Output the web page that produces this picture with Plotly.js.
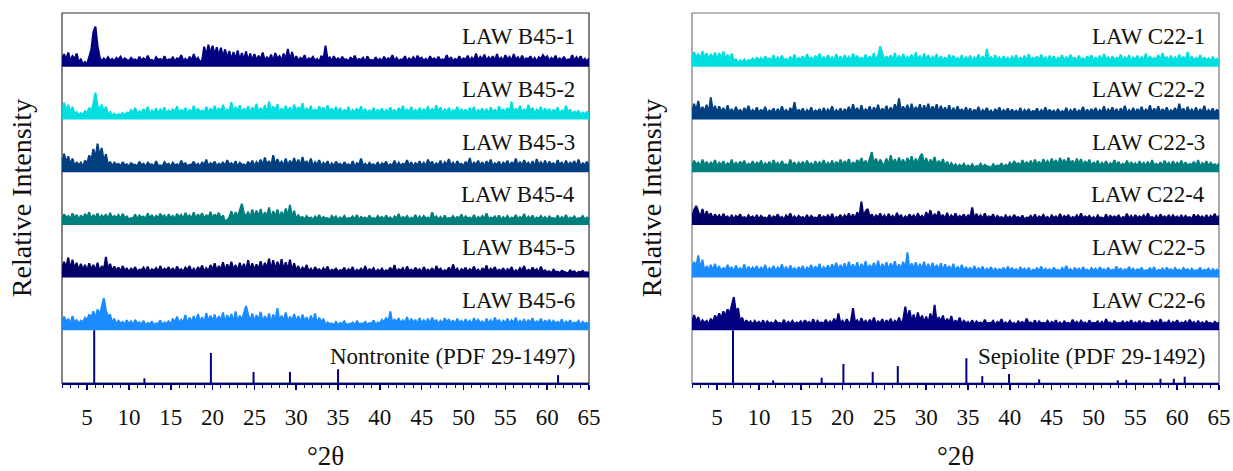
<!DOCTYPE html>
<html>
<head>
<meta charset="utf-8">
<script src="https://cdn.plot.ly/plotly-3.0.1.min.js"></script>
<style>html,body{margin:0;padding:0;background:#fff}#chart{width:1233px;height:471px}</style>
</head>
<body>
<div id="chart"></div>
<script>
// ---- scan range (degrees 2-theta) ----
const scanStart = 2;
const scanEnd = 65;
const tickVals = [5, 10, 15, 20, 25, 30, 35, 40, 45, 50, 55, 60, 65];
const tickText = ["5", "10", "15", "20", "25", "30", "35", "40", "45", "50", "55", "60", "65"];

// ---- panel A : LAW B45 samples (intensity, 100 = one stacking step, 0.25 deg steps) ----
const namesB = ["LAW B45-1", "LAW B45-2", "LAW B45-3", "LAW B45-4", "LAW B45-5", "LAW B45-6"];
const B45_1 = [12,24,14,27,11,20,15,25,9,14,5,9,
5,18,32,66,76,40,18,10,16,11,18,12,15,10,17,13,19,11,16,13,
11,17,13,14,10,19,12,16,11,21,12,13,9,18,13,15,11,20,11,14,
13,18,10,16,14,22,11,15,10,19,12,24,12,17,9,12,38,20,42,24,
40,22,37,20,36,18,33,16,30,13,28,14,31,12,26,13,29,11,25,12,
24,12,21,14,27,11,18,13,23,10,26,15,20,12,25,14,34,11,28,12,
20,11,17,13,22,10,16,14,19,11,15,9,21,13,40,14,18,11,20,12,
16,11,19,13,14,10,18,12,21,11,15,13,17,9,20,13,13,11,18,11,
15,10,19,12,16,14,22,11,17,11,14,13,20,10,16,12,18,11,21,14,
17,11,15,10,20,13,16,11,19,12,14,13,22,11,18,10,15,12,20,11,
16,13,21,11,17,12,25,11,19,14,23,11,18,13,20,11,24,12,17,11,
22,14,19,11,24,13,18,11,21,12,16,14,20,11,17,10,18,15,22,16,
20,11,17,13,21,11,16,12,19,11,14,13,22,11,18,12,20,11,15,10,16];
const B45_2 = [13,32,16,28,13,24,11,14,8,12,9,16,
12,22,16,30,51,26,18,28,14,24,10,14,8,11,7,10,8,12,8,13,
11,18,13,22,10,16,12,20,12,24,10,17,13,21,11,19,14,23,10,18,
12,20,13,25,11,19,13,22,10,18,14,26,12,21,14,17,11,24,13,20,
14,26,12,22,15,28,11,20,14,33,13,24,15,27,11,21,14,25,12,23,
15,30,13,22,14,27,11,34,14,25,15,29,12,21,14,26,13,23,11,28,
14,24,15,31,12,22,14,26,11,20,13,25,15,23,11,27,14,21,12,24,
14,22,11,19,13,24,11,18,13,21,14,25,12,20,10,17,13,22,11,19,
13,21,11,18,14,23,12,19,10,22,14,26,11,20,13,24,11,18,14,22,
12,20,14,25,11,21,14,27,13,23,11,19,14,22,12,18,14,24,11,20,
13,19,11,22,14,24,11,18,14,21,12,20,10,23,13,19,11,25,14,20,
12,22,14,34,11,21,14,26,11,20,13,28,15,22,12,19,14,24,11,21,
13,20,11,18,14,23,11,17,14,26,12,19,10,15,12,16,9,13,10,14,12];
const B45_3 = [15,35,18,30,14,26,11,19,13,18,10,22,
16,32,22,44,26,54,30,46,20,34,13,20,11,18,14,16,11,19,13,15,
11,17,14,14,11,20,13,16,10,18,14,15,11,21,12,13,11,19,14,16,
10,18,13,15,11,22,14,17,11,14,14,20,12,16,10,19,13,24,11,17,
14,20,11,16,13,19,11,23,14,17,12,21,10,18,14,15,11,20,13,22,
11,19,14,24,12,28,14,21,11,32,13,25,15,20,12,26,11,22,14,27,
13,24,11,29,14,21,12,26,11,19,14,23,11,18,13,21,10,17,12,20,
14,16,11,19,13,15,11,21,10,17,14,26,12,16,11,18,13,15,11,19,
10,17,14,20,11,15,13,22,11,18,12,16,14,23,11,19,10,17,13,21,
12,18,11,24,14,20,11,17,13,22,10,19,14,25,12,18,11,21,14,16,
11,20,13,27,11,18,14,22,12,19,10,21,13,24,11,17,14,20,11,18,
14,22,11,19,13,26,11,20,12,23,14,18,11,21,10,25,13,19,12,22,
11,20,14,17,11,23,13,19,10,22,12,18,14,21,11,24,11,17,13,20,11];
const B45_4 = [11,20,14,17,11,22,13,19,10,18,12,21,
14,24,11,19,13,22,11,18,14,20,10,23,12,17,14,19,11,21,13,16,
10,13,12,20,10,18,14,16,11,22,12,19,11,17,13,21,14,18,11,20,
13,17,11,21,14,19,11,23,14,18,12,24,11,20,14,22,11,19,13,25,
12,20,14,23,11,18,6,9,14,26,13,24,15,28,40,22,15,25,12,29,
14,27,15,30,13,24,15,33,12,26,15,29,12,25,14,31,16,38,13,27,
11,18,13,15,10,17,12,14,9,16,11,19,10,15,12,13,9,17,12,16,
9,14,11,17,10,13,12,16,10,19,9,15,12,14,10,18,11,13,10,17,
12,15,10,18,11,14,9,16,12,21,10,15,12,17,10,14,11,19,9,16,
10,17,12,14,10,24,12,16,10,15,9,18,11,13,12,17,10,15,12,20,
10,16,12,14,10,19,9,15,12,17,11,22,10,14,12,16,10,18,9,15,
11,17,10,14,12,19,10,15,12,21,9,16,11,18,10,14,12,17,10,15,
9,16,12,13,10,18,10,15,11,19,9,14,12,16,10,13,12,17,10,14,11];
const B45_5 = [16,30,18,38,15,34,17,28,13,26,14,24,
12,27,15,24,13,28,11,22,14,39,15,26,12,21,13,19,11,22,12,18,
10,17,13,20,11,15,14,19,11,21,10,16,13,18,11,22,12,17,14,20,
11,18,10,21,13,16,11,19,14,22,11,17,10,20,13,23,11,18,12,24,
14,27,12,22,15,29,13,25,16,30,14,24,12,28,15,26,13,33,14,27,
13,25,15,31,14,28,17,36,15,33,14,30,16,35,14,29,15,34,12,27,
13,22,11,19,14,24,11,17,10,20,13,16,11,18,12,21,10,15,13,17,
11,14,13,19,10,16,12,20,9,15,12,17,11,22,10,16,13,18,9,15,
12,17,10,14,12,19,11,24,9,16,13,18,10,21,12,15,11,19,12,16,
10,20,12,15,11,18,9,22,13,17,10,14,12,19,11,25,12,17,9,16,
13,19,10,16,12,21,11,15,9,18,12,23,10,17,13,20,11,15,12,18,
10,16,12,20,9,14,11,18,13,22,10,15,11,19,12,16,9,21,11,14,
10,12,8,15,11,11,9,13,11,10,8,14,10,12,7,11,10,13,9,10,9];
const B45_6 = [13,26,15,22,11,27,14,20,12,18,15,24,
20,30,24,36,22,40,28,48,61,38,26,30,14,22,11,18,13,16,11,19,
12,17,10,20,13,15,11,18,9,14,12,16,10,13,12,19,10,15,13,17,
11,22,14,26,13,20,15,29,12,24,15,27,14,31,16,25,13,33,16,28,
17,30,15,27,17,34,14,29,18,31,15,36,16,28,19,33,46,30,17,32,
15,29,18,35,16,27,17,32,14,30,18,42,15,28,17,34,15,26,18,31,
16,27,14,30,17,25,13,28,15,32,12,24,14,22,10,15,12,13,9,16,
10,14,12,17,10,12,12,15,9,18,11,13,12,16,10,14,12,19,10,15,
13,20,15,24,14,36,13,21,15,23,13,19,14,25,12,22,14,20,11,23,
13,19,14,22,12,24,14,20,11,18,13,23,15,21,13,19,11,22,14,18,
12,21,13,18,11,23,14,20,13,17,11,22,13,19,12,24,14,20,11,18,
13,22,12,19,14,24,11,18,13,21,11,20,13,23,12,17,14,22,11,19,
13,20,11,18,13,16,12,21,10,17,13,19,11,15,13,18,10,16,12,14,12];

// ---- panel B : LAW C22 samples ----
const namesC = ["LAW C22-1", "LAW C22-2", "LAW C22-3", "LAW C22-4", "LAW C22-5", "LAW C22-6"];
const C22_1 = [15,28,17,25,14,30,16,26,14,24,16,27,
14,26,16,29,13,23,15,25,9,15,7,12,9,14,8,13,11,16,10,18,
12,17,10,20,13,16,11,22,10,18,13,21,12,15,10,19,12,23,11,17,
13,20,11,24,12,18,10,21,14,25,12,19,10,22,13,18,11,24,12,20,
10,22,13,19,11,25,14,21,12,18,10,23,12,20,14,26,11,21,39,24,
12,20,14,22,12,26,10,21,13,24,11,19,14,23,12,27,12,21,11,25,
13,22,11,19,14,24,10,20,12,18,10,23,12,21,13,17,11,22,10,19,
12,21,10,18,13,23,11,20,10,34,12,19,11,22,13,18,10,20,12,17,
11,19,13,22,10,18,12,21,10,24,12,17,14,20,11,23,13,18,10,21,
12,20,11,17,14,22,10,19,13,23,12,18,10,21,12,16,11,20,13,22,
10,18,12,21,11,24,13,19,10,20,12,17,14,23,11,19,12,22,10,18,
13,21,11,18,12,25,10,20,12,17,14,22,11,26,13,19,10,21,12,18,
11,23,13,19,10,28,12,20,11,17,13,22,10,18,12,16,10,19,12,15,12];
const C22_2 = [14,30,16,35,13,24,15,28,11,42,14,26,
12,25,14,22,11,27,13,20,11,24,13,19,10,22,14,26,12,18,13,23,
11,19,13,24,11,17,14,21,10,20,12,25,13,18,11,22,13,33,11,19,
13,21,11,18,13,23,11,17,14,20,10,22,12,19,13,25,11,18,13,21,
11,20,14,24,12,29,14,22,11,27,13,19,15,25,11,23,14,28,12,21,
14,26,12,23,14,29,16,40,13,25,15,28,12,30,14,24,16,29,13,27,
15,30,14,25,16,29,12,26,14,23,13,27,11,22,13,25,14,20,12,23,
13,21,11,19,13,24,11,18,14,22,12,17,10,20,13,23,11,18,13,21,
11,19,13,17,11,22,10,18,13,20,12,16,14,21,11,18,13,23,11,19,
13,17,11,20,12,16,13,22,10,18,13,21,11,17,14,24,11,19,12,20,
13,22,11,18,13,25,11,19,14,23,12,20,10,21,13,26,11,18,13,22,
11,20,13,24,12,19,14,27,11,21,13,25,11,20,13,23,12,18,14,22,
11,30,13,21,11,24,13,19,12,23,10,20,13,26,11,18,13,21,11,19,12];
const C22_3 = [12,22,14,18,11,24,13,20,11,19,13,23,
11,18,13,21,11,17,13,24,10,19,12,20,14,22,11,16,13,21,11,19,
13,22,11,17,12,20,10,23,13,18,11,21,13,15,11,24,12,19,10,18,
13,20,11,22,13,17,11,21,12,19,14,23,11,18,13,22,11,20,13,24,
12,21,14,25,11,19,13,23,15,27,14,22,12,24,38,15,26,13,24,16,
14,26,12,32,15,25,13,28,15,24,12,27,16,30,14,26,15,29,35,15,
27,13,24,15,29,12,22,14,25,11,20,10,17,11,15,9,14,10,16,9,
13,9,15,8,12,10,16,9,14,11,11,8,15,10,13,11,17,9,14,11,
18,12,21,14,17,11,23,13,19,14,22,12,24,14,20,12,25,15,21,13,
26,15,23,13,27,16,24,14,28,15,22,13,26,15,25,12,21,14,24,11,
19,13,22,11,18,13,21,11,17,14,23,12,20,11,16,13,22,11,19,13,
17,11,21,13,18,11,20,10,23,13,16,12,19,11,22,13,18,11,21,12,
18,13,22,11,19,12,16,13,20,11,23,10,17,13,21,11,18,13,15,11,17];
const C22_4 = [15,28,36,24,14,30,13,26,15,22,11,20,
13,18,11,21,13,16,11,19,10,17,13,20,12,15,11,18,13,16,11,19,
10,17,13,14,11,19,11,16,13,20,12,15,10,18,13,22,11,16,11,17,
13,15,11,19,10,17,13,14,12,20,11,16,13,18,11,21,10,15,13,19,
11,18,13,22,12,20,11,24,14,44,15,26,30,14,20,11,19,13,22,12,
18,11,21,13,17,11,23,13,19,10,16,12,20,13,18,11,22,13,17,11,
24,14,28,12,21,14,26,13,19,11,23,11,18,13,22,12,17,14,20,11,
19,13,33,11,21,13,18,11,22,12,16,13,20,10,17,13,15,11,18,12,
16,11,19,13,15,11,18,10,14,13,17,11,20,11,16,13,19,12,15,10,
18,13,16,11,21,12,17,13,19,11,15,13,18,11,22,12,16,13,17,11,
15,10,18,13,14,11,20,11,17,13,16,12,19,10,15,13,21,11,17,11,
19,12,16,13,18,11,22,13,15,11,17,10,20,13,16,12,19,11,18,13,
16,11,19,11,17,13,15,10,20,12,18,13,16,11,19,11,17,13,21,11,18];
const C22_5 = [17,30,20,42,16,34,11,22,14,24,13,26,
13,22,11,19,13,24,14,20,11,23,13,18,12,25,11,21,13,19,14,22,
11,20,13,24,11,18,13,22,12,19,14,25,11,21,10,23,13,18,12,20,
13,22,11,19,14,24,12,21,14,26,11,20,15,23,13,25,16,28,14,24,
15,27,13,30,16,25,14,29,12,26,16,31,14,24,17,28,14,32,13,26,
16,29,14,27,17,31,14,25,16,30,15,48,13,27,16,29,14,26,16,30,
14,26,13,28,15,24,14,27,12,25,15,22,13,26,11,21,13,24,12,20,
13,19,11,22,12,18,13,21,11,17,13,20,10,18,12,16,13,19,11,21,
12,18,13,16,11,20,13,17,11,19,10,15,13,18,12,21,11,17,13,16,
11,19,13,15,11,18,13,22,12,16,10,19,13,17,11,20,13,15,11,18,
13,17,11,20,13,16,11,19,12,15,13,21,11,18,10,16,13,20,12,17,
11,16,13,19,11,14,13,18,12,20,10,15,13,17,11,19,13,16,11,18,
13,15,11,18,13,16,11,17,12,14,13,19,11,15,13,17,10,16,12,15,11];
const C22_6 = [14,29,16,25,12,19,14,18,11,22,15,28,
20,32,22,36,26,40,30,46,63,34,42,16,24,11,19,13,17,11,18,12,
16,11,19,10,17,13,15,11,18,13,14,11,20,10,16,12,18,11,15,13,
17,11,19,13,16,11,21,10,18,13,15,12,20,11,17,13,22,11,32,13,
18,11,21,13,17,42,14,19,11,23,13,18,11,20,13,24,11,17,13,21,
11,19,13,22,11,18,13,24,12,20,45,20,38,17,30,15,34,18,28,14,
26,13,32,15,48,14,25,16,28,12,22,14,27,11,19,13,24,11,18,13,
16,11,19,10,17,13,15,11,20,12,14,13,18,10,16,13,21,11,15,11,
18,12,14,10,17,13,16,11,22,13,15,11,19,10,17,13,14,12,18,11,
16,13,19,11,15,10,17,13,14,11,20,12,16,11,18,13,15,10,19,12,
14,13,17,11,16,11,21,13,15,10,18,12,14,13,17,11,16,13,19,11,
15,12,18,10,16,13,14,11,19,13,17,11,21,12,15,13,18,10,16,13,
19,11,15,13,17,11,20,13,16,10,18,12,15,11,17,13,14,11,16,12,15];

// ---- reference patterns (stick positions / relative heights) ----
const nontroniteLabel = "Nontronite (PDF 29-1497)";
const nontroniteTheta = [5.85, 11.85, 19.8, 24.9, 29.25, 35.0, 61.3];
const nontroniteRel = [1.0, 0.09, 0.57, 0.21, 0.21, 0.26, 0.15];
const sepioliteLabel = "Sepiolite (PDF 29-1492)";
const sepioliteTheta = [6.9, 11.7, 17.5, 20.1, 23.6, 26.6, 34.8, 36.7, 39.9, 43.5, 52.9, 53.9, 58.0, 59.6, 60.9];
const sepioliteRel = [1.0, 0.05, 0.1, 0.36, 0.21, 0.32, 0.47, 0.13, 0.17, 0.07, 0.05, 0.06, 0.08, 0.08, 0.12];

const colorsB = ["#000080", "#00dfe0", "#003f80", "#007f7f", "#000066", "#1a8cff"];
const colorsC = ["#00dfe0", "#003f80", "#007f7f", "#000066", "#1a8cff", "#000080"];
const stickColor = "#000080";

const seriesB = [B45_1, B45_2, B45_3, B45_4, B45_5, B45_6];
const seriesC = [C22_1, C22_2, C22_3, C22_4, C22_5, C22_6];

const SERIF = "Liberation Serif";
const traces = [];
const annotations = [];

function addPanel(series, names, colors, xa, ya, stickTheta, stickRel, stickLabel) {
  const n = series.length;
  series.forEach((vals, k) => {
    const offset = n - k; // top trace highest
    const step = (scanEnd - scanStart) / (vals.length - 1);
    const xs = vals.map((v, i) => scanStart + i * step);
    const ys = vals.map(v => offset + v / 100);
    // baseline of this stacked pattern (fill target)
    traces.push({x: [scanStart, scanEnd], y: [offset, offset], xaxis: xa, yaxis: ya, type: "scatter",
      mode: "lines", line: {width: 0, color: colors[k]}, hoverinfo: "skip", showlegend: false});
    traces.push({x: xs, y: ys, xaxis: xa, yaxis: ya, type: "scatter", mode: "lines",
      line: {color: colors[k], width: 2}, fill: "tonexty", fillcolor: colors[k],
      hoverinfo: "skip", showlegend: false});
    annotations.push({xref: xa + " domain", yref: ya, x: 0.978, y: offset + 0.57,
      xanchor: "right", yanchor: "middle", text: names[k], showarrow: false,
      font: {family: SERIF, size: 23, color: "#111"}});
  });
  const sx = [], sy = [];
  stickTheta.forEach((t, i) => { sx.push(t, t, null); sy.push(0, stickRel[i], null); });
  traces.push({x: sx, y: sy, xaxis: xa, yaxis: ya, type: "scatter", mode: "lines",
    line: {color: stickColor, width: 2}, hoverinfo: "skip", showlegend: false});
  annotations.push({xref: xa + " domain", yref: ya, x: 0.978, y: 0.5,
    xanchor: "right", yanchor: "middle", text: stickLabel, showarrow: false,
    font: {family: SERIF, size: 23, color: "#111"}});
}

addPanel(seriesB, namesB, colorsB, "x", "y", nontroniteTheta, nontroniteRel, nontroniteLabel);
addPanel(seriesC, namesC, colorsC, "x2", "y2", sepioliteTheta, sepioliteRel, sepioliteLabel);

function xAxis(domain, anchor) {
  return {domain: domain, anchor: anchor, range: [scanStart, scanEnd],
    tickmode: "array", tickvals: tickVals, ticktext: tickText,
    ticks: "outside", ticklen: 5, tickwidth: 1.5, tickcolor: "#000080",
    showline: true, linecolor: "#000080", linewidth: 1.5,
    showgrid: false, zeroline: false, ticklabelstandoff: 8,
    tickfont: {family: SERIF, size: 23, color: "#111"},
    minor: {dtick: 1, tick0: 0, ticks: "outside", ticklen: 3, tickwidth: 1, tickcolor: "#000080", showgrid: false},
    title: {text: "°2θ", font: {family: SERIF, size: 27, color: "#111"}, standoff: 30},
    fixedrange: true};
}
function yAxis(domain, anchor) {
  return {domain: domain, anchor: anchor, range: [0, 7.02], showticklabels: false, ticks: "",
    showgrid: false, zeroline: false, showline: false,
    title: {text: "Relative Intensity", font: {family: SERIF, size: 28, color: "#111"}, standoff: 21},
    fixedrange: true};
}

const plotW = 1233 - 62 - 14;
const leftDom = [0, 527 / plotW];
const rightDom = [630 / plotW, 1];

const layout = {
  width: 1233, height: 471,
  margin: {l: 62, r: 14, t: 13, b: 88},
  paper_bgcolor: "#fff", plot_bgcolor: "#fff",
  font: {family: SERIF},
  xaxis: xAxis(leftDom, "y"),
  yaxis: yAxis([0, 1], "x"),
  xaxis2: xAxis(rightDom, "y2"),
  yaxis2: yAxis([0, 1], "x2"),
  annotations: annotations,
  shapes: [
    {type: "rect", xref: "x domain", yref: "y domain", x0: 0, x1: 1, y0: 0, y1: 1,
      line: {color: "#333", width: 1.2}, layer: "below"},
    {type: "rect", xref: "x2 domain", yref: "y2 domain", x0: 0, x1: 1, y0: 0, y1: 1,
      line: {color: "#777", width: 1.2}, layer: "below"}
  ],
  showlegend: false
};

Plotly.newPlot("chart", traces, layout, {staticPlot: true, displayModeBar: false});
</script>
</body>
</html>
